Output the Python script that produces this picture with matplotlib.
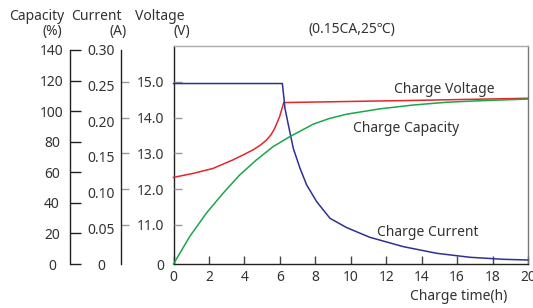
import matplotlib
matplotlib.use("Agg")
import matplotlib.pyplot as plt
from matplotlib.ticker import FixedLocator, NullLocator

plt.rcParams['font.family'] = ['Noto Sans', 'DejaVu Sans']
plt.rcParams['font.size'] = 10

# ---------------- data ----------------
cur_t = [0, 6.14, 6.22, 6.29, 6.48, 6.76, 7.14, 7.51, 8.08, 8.83, 9.77, 11.08, 12.97, 14.85, 16.73, 18.61, 20]
cur_a = [0.253, 0.253, 0.235, 0.218, 0.195, 0.162, 0.134, 0.111, 0.0873, 0.064, 0.051, 0.0374, 0.0243,
         0.015, 0.0094, 0.0066, 0.0056]

volt_t = [0, 1.10, 2.23, 3.36, 3.9, 4.49, 4.9, 5.24, 5.5, 5.71, 5.99, 6.22, 13.53, 20]
volt_v = [12.33, 12.44, 12.58, 12.82, 12.95, 13.10, 13.23, 13.37, 13.52, 13.70, 14.03, 14.42, 14.48, 14.54]

cap_t = [0, 0.91, 1.85, 2.79, 3.73, 4.67, 5.61, 6.56, 7.89, 8.8, 9.77, 11.65, 13.53, 15.41, 17.29, 20]
cap_p = [0, 17.9, 33.2, 46.2, 58.2, 68.0, 76.7, 83.3, 91.5, 95.2, 98.0, 101.5, 104.0, 105.8, 106.8, 107.9]

x_ticks = [0, 2, 4, 6, 8, 10, 12, 14, 16, 18, 20]
cap_ticks = [0, 20, 40, 60, 80, 100, 120, 140]
cur_ticks = [0, 0.05, 0.10, 0.15, 0.20, 0.25, 0.30]
cur_labels = ['0', '0.05', '0.10', '0.15', '0.20', '0.25', '0.30']
volt_ticks = [9.91, 11, 12, 13, 14, 15]
volt_labels = ['0', '11.0', '12.0', '13.0', '14.0', '15.0']

# ---------------- layout ----------------
W, H = 533, 308
fig = plt.figure(figsize=(W / 100, H / 100), dpi=100)
L, R, T, B = 173.5, 528, 46, 264
rect = [L / W, 1 - B / H, (R - L) / W, (B - T) / H]
txt = '#333333'
dark = '#222222'
gray = '#999999'

ax = fig.add_axes(rect)          # main frame + x axis
ax.set_xlim(0, 20)
ax.set_ylim(0, 1)
ax.yaxis.set_major_locator(NullLocator())
for s in ['left', 'bottom']:
    ax.spines[s].set_color(dark)
    ax.spines[s].set_linewidth(1.0)
ax.spines['top'].set_color('#aaaaaa')
ax.spines['right'].set_color('#777777')
ax.spines['top'].set_linewidth(1.0)
ax.spines['right'].set_linewidth(1.0)
ax.xaxis.set_major_locator(FixedLocator(x_ticks))
ax.set_xticklabels([str(v) for v in x_ticks])
ax.tick_params(axis='x', direction='in', length=6, width=1, color='#444444',
               labelcolor=txt, labelsize=10, pad=4)

def bare(a):
    a.patch.set_visible(False)
    for s in a.spines.values():
        s.set_visible(False)
    a.xaxis.set_visible(False)

# voltage axis (data + main-spine ticks)
axv = ax.twinx()
bare(axv)
axv.set_ylim(9.91, 16.0)
axv.yaxis.set_major_locator(FixedLocator(volt_ticks[1:]))
axv.tick_params(axis='y', left=True, right=False, labelleft=False, labelright=False,
                direction='in', length=6, width=1, color=gray)

# voltage labels at the inner offset spine
axvl = ax.twinx()
bare(axvl)
axvl.set_ylim(9.91, 16.0)
axvl.spines['right'].set_position(('axes', (121 - L) / (R - L)))
axvl.yaxis.set_major_locator(FixedLocator(volt_ticks))
axvl.set_yticklabels(volt_labels)
axvl.tick_params(axis='y', left=False, right=True, labelleft=False, labelright=True,
                 direction='out', length=6, width=1, color=gray, labelcolor=txt,
                 labelsize=10, pad=25)
plt.setp(axvl.get_yticklabels(), ha='right')
axvl.yaxis.get_major_ticks()[0].tick2line.set_visible(False)

# current axis
axc = ax.twinx()
bare(axc)
axc.set_ylim(0, 0.3056)
axc.spines['left'].set_visible(True)
axc.spines['left'].set_color(dark)
axc.spines['left'].set_linewidth(1.0)
axc.spines['left'].set_position(('axes', (121 - L) / (R - L)))
axc.spines['left'].set_bounds(0, 0.30)
axc.yaxis.set_major_locator(FixedLocator(cur_ticks))
axc.set_yticklabels(cur_labels)
axc.yaxis.set_minor_locator(FixedLocator([0, 0.30]))
axc.tick_params(axis='y', which='major', left=True, right=False, labelleft=True,
                labelright=False, direction='in', length=0, labelcolor=txt,
                labelsize=10, pad=14.4)
axc.tick_params(axis='y', which='minor', left=True, right=False, direction='in',
                length=6, width=1, color=dark)
plt.setp(axc.get_yticklabels(), ha='center')

# capacity axis
axp = ax.twinx()
bare(axp)
axp.set_ylim(0, 142.6)
axp.spines['left'].set_visible(True)
axp.spines['left'].set_color(dark)
axp.spines['left'].set_linewidth(1.0)
axp.spines['left'].set_position(('axes', (70 - L) / (R - L)))
axp.spines['left'].set_bounds(0, 140)
axp.yaxis.set_major_locator(FixedLocator(cap_ticks))
axp.set_yticklabels([str(v) for v in cap_ticks])
axp.tick_params(axis='y', left=True, right=False, labelleft=True, labelright=False,
                direction='in', length=8, width=1, color=dark, labelcolor=txt,
                labelsize=10, pad=13)
plt.setp(axp.get_yticklabels(), ha='center')

# curves
axp.plot(cap_t, cap_p, color='#1aa64a', lw=1.1, clip_on=False)
axv.plot(volt_t, volt_v, color='#e8242a', lw=1.1, clip_on=False)
axc.plot(cur_t, cur_a, color='#2e3192', lw=1.1, clip_on=False)
for a in (axp, axv, axc, axvl):
    a.set_xlim(0, 20)

# curve labels
axv.text(15.26, 14.79, 'Charge Voltage', ha='center', va='center', color=txt, fontsize=10)
axp.text(13.12, 88.9, 'Charge Capacity', ha='center', va='center', color=txt, fontsize=10)
axc.text(14.33, 0.0439, 'Charge Current', ha='center', va='center', color=txt, fontsize=10)

def ftext(x, y, s, **kw):
    fig.text(x / W, 1 - y / H, s, ha='center', va='center', color=txt, fontsize=10, **kw)

ftext(36.5, 16, 'Capacity')
ftext(52.5, 32, '(%)')
ftext(96.5, 16, 'Current')
ftext(118, 32, '(A)')
ftext(160, 16, 'Voltage')
ftext(181.5, 32, '(V)')
ftext(351.5, 29, '(0.15CA,25℃)')
ftext(458.5, 297, 'Charge time(h)')

fig.savefig('out.png', dpi=100)
